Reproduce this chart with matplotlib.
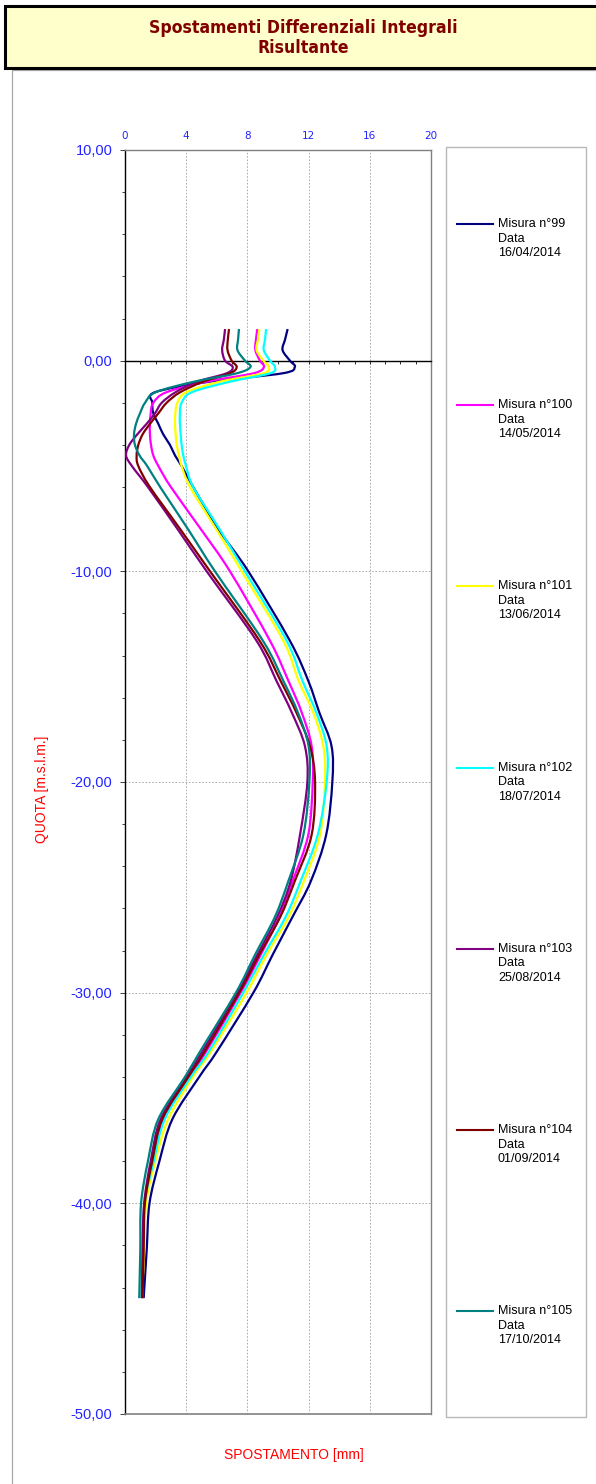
import matplotlib
matplotlib.use("Agg")
import matplotlib.pyplot as plt
from matplotlib.lines import Line2D
from matplotlib.patches import Rectangle, PathPatch
from matplotlib.path import Path
from matplotlib.ticker import MultipleLocator, FuncFormatter

W, H = 596, 1484

# Quota (m s.l.m.) at which each reading is taken
depth = [1.5, 1.0, 0.5, 0.0, -0.3, -0.6, -1.0, -1.5, -2.0, -2.5, -3.0, -3.5,
         -4.0, -4.5, -5.0, -6.0, -8.0, -10.0, -13.3, -15.2, -16.7, -18.3,
         -20.0, -22.5, -24.7, -26.4, -28.2, -30.0, -32.8, -34.0, -36.0,
         -38.0, -40.0, -42.2, -44.5]

# Integrated differential displacement (mm) for each survey
mis_99 = [10.63, 10.46, 10.30, 10.78, 11.10, 10.30, 5.50, 1.95, 1.79, 1.85,
          2.18, 2.50, 2.94, 3.27, 3.70, 4.46, 6.10, 8.06, 10.78, 11.98,
          12.70, 13.50, 13.55, 13.15, 12.15, 10.95, 9.65, 8.39, 6.00, 4.85,
          3.10, 2.25, 1.60, 1.42, 1.22]
mis_100 = [8.65, 8.56, 8.52, 8.82, 9.08, 8.40, 5.30, 2.70, 1.85, 1.68,
           1.63, 1.63, 1.70, 1.85, 2.18, 3.00, 4.96, 6.86, 9.48, 10.68,
           11.55, 12.20, 12.27, 11.98, 10.96, 10.10, 8.87, 7.56, 5.30, 4.25,
           2.52, 1.82, 1.32, 1.20, 1.12]
mis_101 = [8.78, 8.69, 8.60, 9.04, 9.40, 9.04, 6.20, 4.00, 3.42, 3.29,
           3.27, 3.31, 3.38, 3.53, 3.70, 4.25, 5.96, 7.63, 10.35, 11.35,
           12.30, 12.96, 13.07, 12.75, 11.70, 10.70, 9.26, 7.95, 5.62, 4.44,
           2.83, 1.98, 1.38, 1.25, 1.12]
mis_102 = [9.22, 9.15, 9.07, 9.48, 9.80, 9.48, 6.86, 4.36, 3.70, 3.59,
           3.59, 3.64, 3.70, 3.81, 3.99, 4.46, 6.18, 7.84, 10.57, 11.60,
           12.50, 13.18, 13.18, 12.60, 11.48, 10.50, 9.08, 7.73, 5.48, 4.30,
           2.60, 1.88, 1.28, 1.15, 1.08]
mis_103 = [6.54, 6.46, 6.35, 6.54, 7.04, 6.64, 4.70, 3.30, 2.40, 1.96,
           1.41, 0.80, 0.28, 0.07, 0.45, 1.50, 3.44, 5.34, 8.60, 9.90,
           10.90, 11.76, 11.92, 11.44, 10.83, 9.95, 8.65, 7.34, 5.05, 4.03,
           2.33, 1.68, 1.25, 1.15, 1.10]
mis_104 = [6.80, 6.72, 6.70, 6.97, 7.30, 6.86, 5.10, 3.60, 2.72, 2.18,
           1.63, 1.15, 0.87, 0.76, 0.87, 1.63, 3.61, 5.56, 8.80, 10.17,
           11.20, 12.09, 12.42, 12.20, 11.10, 10.15, 8.78, 7.47, 5.20, 4.14,
           2.44, 1.78, 1.30, 1.22, 1.15]
mis_105 = [7.45, 7.39, 7.35, 7.84, 8.20, 7.30, 4.50, 2.00, 1.31, 0.98,
           0.72, 0.59, 0.65, 0.95, 1.45, 2.30, 4.12, 5.88, 9.02, 10.35,
           11.30, 12.00, 12.05, 11.66, 10.68, 9.80, 8.50, 7.25, 4.90, 3.92,
           2.18, 1.50, 1.05, 1.00, 0.93]

series = [mis_99, mis_100, mis_101, mis_102, mis_103, mis_104, mis_105]
numbers = ["99", "100", "101", "102", "103", "104", "105"]
dates = ["16/04/2014", "14/05/2014", "13/06/2014", "18/07/2014",
         "25/08/2014", "01/09/2014", "17/10/2014"]
colors = ["#000080", "#FF00FF", "#FFFF00", "#00FFFF",
          "#800080", "#800000", "#008080"]

SANS = ["Liberation Sans", "DejaVu Sans"]
BLUE = "#2323FF"


def fx(px):
    return px / W


def fy(py):
    return 1 - py / H


def smoothed_path(xs, ys):
    """Cubic Bezier path through the readings (smoothed-line style)."""
    pts = list(zip(xs, ys))
    n = len(pts)
    verts = [pts[0]]
    codes = [Path.MOVETO]
    for i in range(n - 1):
        p0 = pts[i - 1] if i > 0 else pts[i]
        p1 = pts[i]
        p2 = pts[i + 1]
        p3 = pts[i + 2] if i + 2 < n else pts[i + 1]
        c1 = (p1[0] + (p2[0] - p0[0]) / 6, p1[1] + (p2[1] - p0[1]) / 6)
        c2 = (p2[0] - (p3[0] - p1[0]) / 6, p2[1] - (p3[1] - p1[1]) / 6)
        verts += [c1, c2, p2]
        codes += [Path.CURVE4] * 3
    return Path(verts, codes)


fig = plt.figure(figsize=(W / 100, H / 100), dpi=100)

# outer chart frame
fig.add_artist(Rectangle((fx(12), -0.05), 1.2, fy(70) + 0.05,
                         transform=fig.transFigure, fill=False,
                         edgecolor="#A8A8A8", lw=0.9))

# title banner
fig.add_artist(Rectangle((fx(5), fy(68)), 1.2, (68 - 6) / H,
                         transform=fig.transFigure, facecolor="#FFFFCC",
                         edgecolor="black", lw=2.2))
for txt, yy in (("Spostamenti Differenziali Integrali", 28), ("Risultante", 48)):
    fig.text(fx(303), fy(yy), txt, ha="center", va="center", color="#800000",
             fontsize=12.6, fontweight="bold", family="DejaVu Sans",
             fontstretch="condensed")

# plot area
ax = fig.add_axes([fx(125), fy(1414), (431 - 125) / W, (1414 - 150) / H])
for vals, c in zip(series, colors):
    ax.add_patch(PathPatch(smoothed_path(vals, depth), facecolor="none",
                           edgecolor=c, lw=1.6, joinstyle="round",
                           capstyle="butt", zorder=3))

ax.set_xlim(0, 20)
ax.set_ylim(-50, 10)

ax.xaxis.set_major_locator(MultipleLocator(4))
ax.xaxis.set_minor_locator(MultipleLocator(1))
ax.yaxis.set_major_locator(MultipleLocator(10))
ax.yaxis.set_minor_locator(MultipleLocator(2))
ax.yaxis.set_major_formatter(FuncFormatter(lambda v, p: f"{v:.2f}".replace(".", ",")))
ax.xaxis.set_major_formatter(FuncFormatter(lambda v, p: f"{v:.0f}"))

ax.spines["bottom"].set_position(("data", 0))
ax.spines["bottom"].set_color("black")
ax.spines["bottom"].set_linewidth(1.0)
ax.spines["left"].set_color("black")
ax.spines["left"].set_linewidth(1.0)
for s in ("top", "right"):
    ax.spines[s].set_color("#808080")
    ax.spines[s].set_linewidth(1.0)
ax.axhline(-50, color="#808080", lw=1.2, clip_on=False, zorder=4)

ax.tick_params(axis="x", which="both", direction="out", bottom=True, top=False,
               labelbottom=False, labeltop=True, length=2.2, width=0.7,
               color="#303030", pad=4.5, labelsize=7.5, labelcolor=BLUE)
ax.tick_params(axis="y", which="major", direction="out", length=3.6, width=0.7,
               color="#404040", pad=5.5, labelsize=10.5, labelcolor=BLUE)
ax.tick_params(axis="y", which="minor", direction="out", length=2.2, width=0.7,
               color="#404040")
for lab in ax.get_yticklabels():
    lab.set_family(SANS)
for lab in ax.get_xticklabels():
    lab.set_family("DejaVu Sans")

ax.grid(which="major", axis="both", linestyle=(0, (2, 2)), color="#A0A0A0",
        lw=0.6, zorder=0)

# axis titles
fig.text(fx(42), fy(789), "QUOTA [m.s.l.m.]", rotation=90, ha="center",
         va="center", color="#FF0000", fontsize=10, family=SANS)
fig.text(fx(294), fy(1455), "SPOSTAMENTO [mm]", ha="center", va="center",
         color="#FF0000", fontsize=10, family=SANS)

# legend panel
fig.add_artist(Rectangle((fx(446), fy(1417)), (586 - 446) / W, (1417 - 147) / H,
                         transform=fig.transFigure, fill=False,
                         edgecolor="#B8B8B8", lw=1.0))
for i, (num, d, c) in enumerate(zip(numbers, dates, colors)):
    y0 = 224 + i * 181.2
    fig.add_artist(Line2D([fx(457), fx(493)], [fy(y0), fy(y0)],
                          transform=fig.transFigure, color=c, lw=1.5))
    for k, txt in enumerate([f"Misura n°{num}", "Data", d]):
        fig.text(fx(498), fy(y0 + k * 14.5), txt, ha="left", va="center",
                 fontsize=9, family=SANS, color="black")

fig.savefig("out.png", dpi=100)
